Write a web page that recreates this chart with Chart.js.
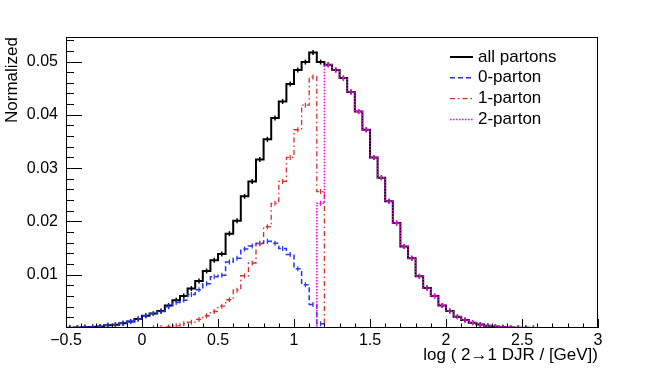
<!DOCTYPE html>
<html>
<head>
<meta charset="utf-8">
<script src="https://cdn.jsdelivr.net/npm/chart.js@4.4.1/dist/chart.umd.min.js"></script>
<style>
  html, body { margin: 0; padding: 0; background: #fff; }
</style>
</head>
<body>
<canvas id="graficoDJR" width="664" height="373"></canvas>
<script>
// bins of 0.05 from -0.5 to 3 (70 bins)
const binStart = -0.5;
const binWidth = 0.05;

const allPartons = [
  0.00005, 0.0001, 0.00015, 0.0002, 0.0003, 0.0005, 0.0006, 0.0009, 0.0012, 0.0017,
  0.0023, 0.0027, 0.0032, 0.0042, 0.0052, 0.0060, 0.0074, 0.0088, 0.0107, 0.0127,
  0.0139, 0.0177, 0.0201, 0.0247, 0.0275, 0.0316, 0.0354, 0.0394, 0.0425, 0.0458,
  0.0484, 0.0499, 0.0517, 0.0499, 0.0494, 0.0484, 0.0469, 0.0443, 0.0406, 0.0372,
  0.0320, 0.0282, 0.0238, 0.0197, 0.0153, 0.0131, 0.0097, 0.0075, 0.0060, 0.0042,
  0.0032, 0.0021, 0.0015, 0.0010, 0.00066, 0.0004, 0.00028, 0.00015, 0.0001, 0.00006,
  0.00004, 0.00002, 0, 0, 0, 0, 0, 0, 0, 0
];

const parton0 = [
  0.00005, 0.0001, 0.00015, 0.0002, 0.0003, 0.0005, 0.0006, 0.0009, 0.0012, 0.0017,
  0.0023, 0.0027, 0.0031, 0.0040, 0.0048, 0.0052, 0.0063, 0.0072, 0.0083, 0.0096,
  0.0099, 0.0124, 0.0131, 0.0148, 0.0154, 0.0159, 0.0163, 0.0159, 0.0149, 0.0138,
  0.0111, 0.0081, 0.0044, 0.0008, 0, 0, 0, 0, 0, 0,
  0, 0, 0, 0, 0, 0, 0, 0, 0, 0,
  0, 0, 0, 0, 0, 0, 0, 0, 0, 0,
  0, 0, 0, 0, 0, 0, 0, 0, 0, 0
];

const parton1 = [
  0, 0, 0, 0, 0, 0, 0, 0, 0, 0,
  0, 0.00005, 0.0001, 0.0002, 0.0004, 0.0008, 0.0011, 0.0016, 0.0023, 0.0031,
  0.0041, 0.0053, 0.0071, 0.0098, 0.0122, 0.0158, 0.0190, 0.0234, 0.0275, 0.0320,
  0.0372, 0.0418, 0.0471, 0.0256, 0, 0, 0, 0, 0, 0,
  0, 0, 0, 0, 0, 0, 0, 0, 0, 0,
  0, 0, 0, 0, 0, 0, 0, 0, 0, 0,
  0, 0, 0, 0, 0, 0, 0, 0, 0, 0
];

const parton2 = [
  0, 0, 0, 0, 0, 0, 0, 0, 0, 0,
  0, 0, 0, 0, 0, 0, 0, 0, 0, 0,
  0, 0, 0, 0, 0, 0, 0, 0, 0, 0,
  0, 0, 0, 0.0234, 0.0494, 0.0484, 0.0469, 0.0443, 0.0406, 0.0372,
  0.0320, 0.0282, 0.0238, 0.0197, 0.0153, 0.0131, 0.0097, 0.0075, 0.0060, 0.0042,
  0.0032, 0.0021, 0.0015, 0.0010, 0.00066, 0.0004, 0.00028, 0.00015, 0.0001, 0.00006,
  0.00004, 0.00002, 0, 0, 0, 0, 0, 0, 0, 0
];

const xTicks = [-0.5, 0, 0.5, 1, 1.5, 2, 2.5, 3];
const yTicks = [0.01, 0.02, 0.03, 0.04, 0.05];
const xMin = -0.5;
const xMax = 3;
const yMax = 0.0546;

const fonte = "'Liberation Sans', Arial, Helvetica, sans-serif";
Chart.defaults.font.family = fonte;
Chart.defaults.color = '#000';

// points on the bin edges, stepped 'before' gives the histogram outline
function pontosHist(vals) {
  const pts = [];
  for (let i = 0; i < vals.length; i++) {
    const keep = vals[i] !== 0 || vals[i - 1] || vals[i + 1];
    pts.push({ x: binStart + i * binWidth, y: keep ? vals[i] : null });
  }
  const last = vals[vals.length - 1];
  pts.push({ x: binStart + vals.length * binWidth, y: last !== 0 ? last : null });
  return pts;
}

// little error-bar ticks in the bin centres
function pontosErro(vals) {
  return vals.map((v, i) => ({ x: binStart + (i + 0.5) * binWidth, y: v > 0 ? v : null }));
}

function hist(label, vals, cor, largura, traco, ordem) {
  return {
    label: label,
    legenda: true,
    data: pontosHist(vals),
    borderColor: cor,
    borderWidth: largura,
    borderDash: traco,
    stepped: true,
    pointRadius: 0,
    fill: false,
    clip: 0,
    order: ordem,
  };
}

function erros(vals, cor, largura, ordem) {
  return {
    data: pontosErro(vals),
    showLine: false,
    pointStyle: 'line',
    pointRotation: 90,
    pointRadius: 2.5,
    pointBorderColor: cor,
    pointBorderWidth: largura,
    clip: 0,
    order: ordem,
  };
}

// ROOT style frame, inner ticks and legend
const moldura = {
  id: 'moldura',
  afterDatasetsDraw(chart) {
    const { ctx, chartArea: a, scales } = chart;
    const x = scales.x;
    const y = scales.y;
    ctx.save();
    ctx.strokeStyle = '#000';
    ctx.lineWidth = 1;
    ctx.beginPath();
    for (let k = 0; k <= 35; k++) {
      const px = Math.round(x.getPixelForValue(xMin + k * 0.1)) + 0.5;
      const len = k % 5 === 0 ? 9 : 4.5;
      ctx.moveTo(px, a.bottom);
      ctx.lineTo(px, a.bottom - len);
    }
    for (let k = 1; k * 0.002 < yMax; k++) {
      const py = Math.round(y.getPixelForValue(k * 0.002)) + 0.5;
      const len = k % 5 === 0 ? 16 : 8;
      ctx.moveTo(a.left, py);
      ctx.lineTo(a.left + len, py);
    }
    ctx.stroke();
    ctx.strokeRect(Math.round(a.left) + 0.5, Math.round(a.top) + 0.5,
      Math.round(a.width) - 1, Math.round(a.height) - 1);

    const itens = chart.data.datasets.filter(d => d.legenda);
    ctx.font = '17px ' + fonte;
    ctx.textBaseline = 'middle';
    ctx.fillStyle = '#000';
    itens.forEach((d, i) => {
      const ly = a.top + 20 + i * 20.8;
      ctx.save();
      ctx.strokeStyle = d.borderColor;
      ctx.lineWidth = d.borderWidth;
      ctx.setLineDash(d.borderDash || []);
      ctx.beginPath();
      ctx.moveTo(a.right - 148, ly);
      ctx.lineTo(a.right - 125, ly);
      ctx.stroke();
      ctx.restore();
      ctx.fillText(d.label, a.right - 120, ly);
    });
    ctx.restore();
  }
};

const graficoDJR = new Chart(document.getElementById('graficoDJR'), {
  type: 'line',
  data: {
    datasets: [
      hist('all partons', allPartons, '#000000', 2, [], 8),
      hist('0-parton', parton0, '#2233ff', 1.5, [5, 3], 6),
      hist('1-parton', parton1, '#dd2a2a', 1.3, [5, 3, 1.5, 3], 4),
      hist('2-parton', parton2, '#ff00ff', 1.5, [1.5, 1.5], 2),
      erros(allPartons, '#000000', 1.5, 7),
      erros(parton0, '#2233ff', 1.2, 5),
      erros(parton1, '#dd2a2a', 1.2, 3),
      erros(parton2, '#ff00ff', 1.2, 1),
    ],
  },
  options: {
    responsive: false,
    animation: false,
    events: [],
    layout: { padding: { top: 37, right: 66, left: 0, bottom: 0 } },
    plugins: {
      legend: { display: false },
      tooltip: { enabled: false },
    },
    scales: {
      x: {
        type: 'linear',
        min: xMin,
        max: xMax,
        afterBuildTicks: s => { s.ticks = xTicks.map(v => ({ value: v })); },
        afterFit: s => { s.height = 45; },
        grid: { display: false, drawTicks: false },
        border: { display: false },
        ticks: {
          font: { size: 16 },
          padding: 3,
          maxRotation: 0,
          autoSkip: false,
          callback: v => String(v).replace('-', '\u2212'),
        },
        title: {
          display: true,
          text: 'log ( 2\u21921 DJR / [GeV])',
          align: 'end',
          font: { size: 17 },
          padding: { top: 0, bottom: 7 },
        },
      },
      y: {
        type: 'linear',
        min: 0,
        max: yMax,
        afterBuildTicks: s => { s.ticks = yTicks.map(v => ({ value: v })); },
        afterFit: s => { s.width = 66; },
        grid: { display: false, drawTicks: false },
        border: { display: false },
        ticks: {
          font: { size: 16 },
          padding: 8,
          callback: v => v.toFixed(2),
        },
        title: {
          display: true,
          text: 'Normalized',
          align: 'end',
          font: { size: 17 },
          padding: { top: 2, bottom: 0 },
        },
      },
    },
  },
  plugins: [moldura],
});
</script>
</body>
</html>
